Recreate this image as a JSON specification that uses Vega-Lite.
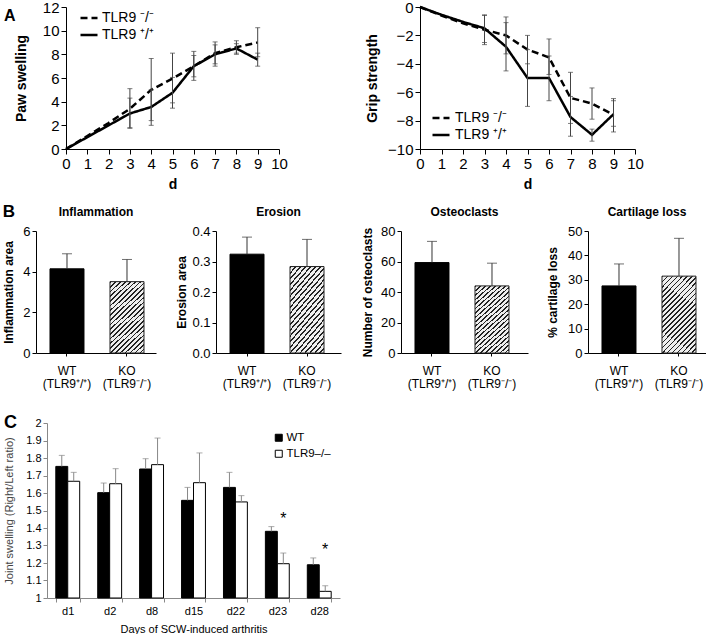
{
  "$schema": "https://vega.github.io/schema/vega-lite/v6.json",
  "background": "white",
  "padding": {"left": 2, "top": 0, "right": 0, "bottom": 0},
  "columns": 1,
  "spacing": 12,
  "align": "none",
  "bounds": "full",
  "resolve": {"scale": {"fill": "independent", "strokeDash": "independent"}, "legend": {"fill": "independent", "strokeDash": "independent"}},
  "config": {
    "font": "Liberation Sans",
    "view": {"stroke": null},
    "axis": {"grid": false, "domainColor": "#000", "tickColor": "#000", "labelColor": "#000", "titleColor": "#000", "labelFont": "Liberation Sans", "titleFont": "Liberation Sans"},
    "legend": {"labelFont": "Liberation Sans", "labelColor": "#000"},
    "title": {"font": "Liberation Sans", "color": "#000"}
  },
  "concat": [
    {
      "resolve": {"scale": {"strokeDash": "independent"}, "legend": {"strokeDash": "independent"}},
      "hconcat": [
        {
          "width": 243,
          "height": 142,
          "title": {"text": "A", "anchor": "start", "frame": "group", "dx": -32, "dy": 24, "offset": 0, "baseline": "top", "fontSize": 16, "fontWeight": "bold"},
          "data": {"values": [
            {"g": "TLR9 ⁻/⁻", "d": 0, "v": 0},
            {"g": "TLR9 ⁻/⁻", "d": 1, "v": 1.1},
            {"g": "TLR9 ⁻/⁻", "d": 2, "v": 2.2},
            {"g": "TLR9 ⁻/⁻", "d": 3, "v": 3.4, "lo": 1.75, "hi": 5.1},
            {"g": "TLR9 ⁻/⁻", "d": 4, "v": 5.0, "lo": 2.4, "hi": 7.65},
            {"g": "TLR9 ⁻/⁻", "d": 5, "v": 5.95, "lo": 3.9, "hi": 8.1},
            {"g": "TLR9 ⁻/⁻", "d": 6, "v": 7.0, "lo": 5.8, "hi": 8.25},
            {"g": "TLR9 ⁻/⁻", "d": 7, "v": 8.1, "lo": 7.2, "hi": 9.05},
            {"g": "TLR9 ⁻/⁻", "d": 8, "v": 8.6, "lo": 8.1, "hi": 9.15},
            {"g": "TLR9 ⁻/⁻", "d": 9, "v": 9.0, "lo": 7.8, "hi": 10.25},
            {"g": "TLR9 ⁺/⁺", "d": 0, "v": 0},
            {"g": "TLR9 ⁺/⁺", "d": 1, "v": 1.0},
            {"g": "TLR9 ⁺/⁺", "d": 2, "v": 2.0},
            {"g": "TLR9 ⁺/⁺", "d": 3, "v": 3.0, "lo": 1.8, "hi": 4.3},
            {"g": "TLR9 ⁺/⁺", "d": 4, "v": 3.55, "lo": 2.0, "hi": 5.0},
            {"g": "TLR9 ⁺/⁺", "d": 5, "v": 4.75, "lo": 3.45, "hi": 6.05},
            {"g": "TLR9 ⁺/⁺", "d": 6, "v": 7.0, "lo": 6.1, "hi": 7.9},
            {"g": "TLR9 ⁺/⁺", "d": 7, "v": 8.0, "lo": 7.0, "hi": 8.8},
            {"g": "TLR9 ⁺/⁺", "d": 8, "v": 8.5, "lo": 8.0, "hi": 8.9},
            {"g": "TLR9 ⁺/⁺", "d": 9, "v": 7.55, "lo": 7.0, "hi": 8.1}
          ]},
          "encoding": {
            "x": {"field": "d", "type": "quantitative", "scale": {"domain": [0, 10], "nice": false, "range": [30, 243]},
                  "axis": {"values": [0, 1, 2, 3, 4, 5, 6, 7, 8, 9, 10], "title": "d", "titleFontSize": 14, "titleFontWeight": "bold", "labelFontSize": 15, "tickSize": 5, "labelPadding": 2, "titlePadding": 6, "labelFlush": false, "labelOverlap": false}}
          },
          "layer": [
            {
              "mark": {"type": "line", "color": "black", "strokeWidth": 2.5},
              "encoding": {
                "y": {"field": "v", "type": "quantitative", "scale": {"domain": [0, 12], "nice": false},
                      "axis": {"values": [0, 2, 4, 6, 8, 10, 12], "offset": -30, "title": "Paw swelling", "titleFontSize": 14, "titleFontWeight": "bold", "labelFontSize": 15, "tickSize": 5, "labelPadding": 2, "titlePadding": 14, "labelOverlap": false}},
                "strokeDash": {"field": "g", "type": "nominal", "scale": {"domain": ["TLR9 ⁻/⁻", "TLR9 ⁺/⁺"], "range": [[7, 4], [1, 0]]},
                  "legend": {"title": null, "orient": "none", "legendX": 43, "legendY": 1, "symbolSize": 289, "symbolStrokeWidth": 2.5, "symbolStrokeColor": "black", "labelFontSize": 14, "labelOffset": 3, "rowPadding": -3, "padding": 0}}
              }
            },
            {"mark": {"type": "rule", "color": "#444", "strokeWidth": 1}, "encoding": {"y": {"field": "lo", "type": "quantitative", "axis": {"values": [0, 2, 4, 6, 8, 10, 12], "offset": -30, "title": "Paw swelling", "titleFontSize": 14, "titleFontWeight": "bold", "labelFontSize": 15, "tickSize": 5, "labelPadding": 2, "titlePadding": 14, "labelOverlap": false}}, "y2": {"field": "hi"}}},
            {"mark": {"type": "tick", "orient": "horizontal", "color": "#444", "size": 5, "thickness": 1}, "encoding": {"y": {"field": "lo", "type": "quantitative", "axis": {"values": [0, 2, 4, 6, 8, 10, 12], "offset": -30, "title": "Paw swelling", "titleFontSize": 14, "titleFontWeight": "bold", "labelFontSize": 15, "tickSize": 5, "labelPadding": 2, "titlePadding": 14, "labelOverlap": false}}}},
            {"mark": {"type": "tick", "orient": "horizontal", "color": "#444", "size": 5, "thickness": 1}, "encoding": {"y": {"field": "hi", "type": "quantitative", "axis": {"values": [0, 2, 4, 6, 8, 10, 12], "offset": -30, "title": "Paw swelling", "titleFontSize": 14, "titleFontWeight": "bold", "labelFontSize": 15, "tickSize": 5, "labelPadding": 2, "titlePadding": 14, "labelOverlap": false}}}}
          ]
        },
        {
          "width": 215,
          "height": 142,
          "data": {"values": [
            {"g": "TLR9 ⁻/⁻", "d": 0, "v": 0},
            {"g": "TLR9 ⁻/⁻", "d": 1, "v": -0.6},
            {"g": "TLR9 ⁻/⁻", "d": 2, "v": -1.15},
            {"g": "TLR9 ⁻/⁻", "d": 3, "v": -1.6, "lo": -0.6, "hi": -2.65},
            {"g": "TLR9 ⁻/⁻", "d": 4, "v": -2.0, "lo": -0.7, "hi": -3.3},
            {"g": "TLR9 ⁻/⁻", "d": 5, "v": -3.0, "lo": -2.0, "hi": -4.0},
            {"g": "TLR9 ⁻/⁻", "d": 6, "v": -3.55, "lo": -2.25, "hi": -4.75},
            {"g": "TLR9 ⁻/⁻", "d": 7, "v": -6.4, "lo": -4.6, "hi": -8.2},
            {"g": "TLR9 ⁻/⁻", "d": 8, "v": -6.8, "lo": -5.7, "hi": -7.9},
            {"g": "TLR9 ⁻/⁻", "d": 9, "v": -7.6, "lo": -6.45, "hi": -8.8},
            {"g": "TLR9 ⁺/⁺", "d": 0, "v": 0},
            {"g": "TLR9 ⁺/⁺", "d": 1, "v": -0.55},
            {"g": "TLR9 ⁺/⁺", "d": 2, "v": -1.05},
            {"g": "TLR9 ⁺/⁺", "d": 3, "v": -1.5, "lo": -0.55, "hi": -2.5},
            {"g": "TLR9 ⁺/⁺", "d": 4, "v": -2.8, "lo": -1.1, "hi": -4.5},
            {"g": "TLR9 ⁺/⁺", "d": 5, "v": -5.0, "lo": -3.0, "hi": -7.0},
            {"g": "TLR9 ⁺/⁺", "d": 6, "v": -5.0, "lo": -3.45, "hi": -6.6},
            {"g": "TLR9 ⁺/⁺", "d": 7, "v": -7.75, "lo": -6.3, "hi": -9.1},
            {"g": "TLR9 ⁺/⁺", "d": 8, "v": -9.0, "lo": -8.6, "hi": -9.45},
            {"g": "TLR9 ⁺/⁺", "d": 9, "v": -7.55, "lo": -6.6, "hi": -8.4}
          ]},
          "encoding": {
            "x": {"field": "d", "type": "quantitative", "scale": {"domain": [0, 10], "nice": false},
                  "axis": {"values": [0, 1, 2, 3, 4, 5, 6, 7, 8, 9, 10], "title": "d", "titleFontSize": 14, "titleFontWeight": "bold", "labelFontSize": 15, "tickSize": 5, "labelPadding": 2, "titlePadding": 6, "labelFlush": false, "labelOverlap": false}}
          },
          "layer": [
            {
              "mark": {"type": "line", "color": "black", "strokeWidth": 2.5},
              "encoding": {
                "y": {"field": "v", "type": "quantitative", "scale": {"domain": [-10, 0], "nice": false},
                      "axis": {"values": [-10, -8, -6, -4, -2, 0], "title": "Grip strength", "titleFontSize": 14, "titleFontWeight": "bold", "labelFontSize": 15, "tickSize": 5, "labelPadding": 2, "titlePadding": 8, "labelOverlap": false}},
                "strokeDash": {"field": "g", "type": "nominal", "scale": {"domain": ["TLR9 ⁻/⁻", "TLR9 ⁺/⁺"], "range": [[7, 4], [1, 0]]},
                  "legend": {"title": null, "orient": "none", "legendX": 11, "legendY": 101, "symbolSize": 289, "symbolStrokeWidth": 2.5, "symbolStrokeColor": "black", "labelFontSize": 14, "labelOffset": 4, "rowPadding": -1, "padding": 0}}
              }
            },
            {
              "data": {"values": [{}]},
              "mark": {"type": "rule", "color": "#333", "strokeDash": [1.5, 2.5], "strokeWidth": 1},
              "encoding": {"x": {"datum": 0, "type": "quantitative"}, "x2": {"datum": 10}, "y": {"datum": 0, "type": "quantitative", "axis": {"values": [-10, -8, -6, -4, -2, 0], "title": "Grip strength", "titleFontSize": 14, "titleFontWeight": "bold", "labelFontSize": 15, "tickSize": 5, "labelPadding": 2, "titlePadding": 8, "labelOverlap": false}}}
            },
            {"mark": {"type": "rule", "color": "#444", "strokeWidth": 1}, "encoding": {"y": {"field": "lo", "type": "quantitative", "axis": {"values": [-10, -8, -6, -4, -2, 0], "title": "Grip strength", "titleFontSize": 14, "titleFontWeight": "bold", "labelFontSize": 15, "tickSize": 5, "labelPadding": 2, "titlePadding": 8, "labelOverlap": false}}, "y2": {"field": "hi"}}},
            {"mark": {"type": "tick", "orient": "horizontal", "color": "#444", "size": 5, "thickness": 1}, "encoding": {"y": {"field": "lo", "type": "quantitative", "axis": {"values": [-10, -8, -6, -4, -2, 0], "title": "Grip strength", "titleFontSize": 14, "titleFontWeight": "bold", "labelFontSize": 15, "tickSize": 5, "labelPadding": 2, "titlePadding": 8, "labelOverlap": false}}}},
            {"mark": {"type": "tick", "orient": "horizontal", "color": "#444", "size": 5, "thickness": 1}, "encoding": {"y": {"field": "hi", "type": "quantitative", "axis": {"values": [-10, -8, -6, -4, -2, 0], "title": "Grip strength", "titleFontSize": 14, "titleFontWeight": "bold", "labelFontSize": 15, "tickSize": 5, "labelPadding": 2, "titlePadding": 8, "labelOverlap": false}}}}
          ]
        }
      ],
      "spacing": 141,
      "bounds": "flush"
    },
    {
      "title": {"text": "B", "anchor": "start", "frame": "bounds", "dx": 0, "dy": 17, "baseline": "top", "offset": 2, "fontSize": 17, "fontWeight": "bold"},
      "hconcat": [
        {
          "width": 120, "height": 122,
          "title": {"text": "Inflammation", "fontSize": 12, "fontWeight": "bold", "baseline": "alphabetic", "offset": -3},
          "data": {"values": [{"g": "WT", "v": 4.14, "hi": 4.88}, {"g": "KO", "v": 3.51, "hi": 4.6}]},
          "encoding": {
            "x": {"field": "g", "type": "nominal", "sort": ["WT", "KO"], "scale": {"paddingInner": 0.4333, "paddingOuter": 0.2167, "align": 0.538},
                  "axis": {"title": null, "labelAngle": 0, "labelExpr": "datum.value == 'WT' ? ['WT', '(TLR9⁺/⁺)', ''] : ['KO', '(TLR9⁻/⁻)', '']", "labelFontSize": 12, "labelLineHeight": 13, "tickSize": 3, "labelPadding": 9, "labelOverlap": false}}
          },
          "layer": [
            {"transform": [{"filter": "datum.g == 'WT'"}], "mark": {"type": "bar", "fill": "black", "stroke": "black"},
             "encoding": {"y": {"field": "v", "type": "quantitative", "scale": {"domain": [0, 6], "nice": false},
               "axis": {"values": [0, 2, 4, 6], "title": "Inflammation area", "titleFontSize": 12, "titleFontWeight": "bold", "labelFontSize": 13, "tickSize": 4, "labelPadding": 2, "titlePadding": 7, "labelOverlap": false}}}},
            {"transform": [{"filter": "datum.g == 'KO'"}],
             "mark": {"type": "bar", "stroke": "#222", "strokeWidth": 1, "fill": {"gradient": "linear", "x1": 0, "y1": 0, "x2": 0.5465, "y2": 1.2056, "stops": [{"offset": 0, "color": "#222"}, {"offset": 0.0159, "color": "#222"}, {"offset": 0.0159, "color": "#eee"}, {"offset": 0.0455, "color": "#eee"}, {"offset": 0.0455, "color": "#222"}, {"offset": 0.0614, "color": "#222"}, {"offset": 0.0614, "color": "#eee"}, {"offset": 0.0909, "color": "#eee"}, {"offset": 0.0909, "color": "#222"}, {"offset": 0.1068, "color": "#222"}, {"offset": 0.1068, "color": "#eee"}, {"offset": 0.1364, "color": "#eee"}, {"offset": 0.1364, "color": "#222"}, {"offset": 0.1523, "color": "#222"}, {"offset": 0.1523, "color": "#eee"}, {"offset": 0.1818, "color": "#eee"}, {"offset": 0.1818, "color": "#222"}, {"offset": 0.1977, "color": "#222"}, {"offset": 0.1977, "color": "#eee"}, {"offset": 0.2273, "color": "#eee"}, {"offset": 0.2273, "color": "#222"}, {"offset": 0.2432, "color": "#222"}, {"offset": 0.2432, "color": "#eee"}, {"offset": 0.2727, "color": "#eee"}, {"offset": 0.2727, "color": "#222"}, {"offset": 0.2886, "color": "#222"}, {"offset": 0.2886, "color": "#eee"}, {"offset": 0.3182, "color": "#eee"}, {"offset": 0.3182, "color": "#222"}, {"offset": 0.3341, "color": "#222"}, {"offset": 0.3341, "color": "#eee"}, {"offset": 0.3636, "color": "#eee"}, {"offset": 0.3636, "color": "#222"}, {"offset": 0.3795, "color": "#222"}, {"offset": 0.3795, "color": "#eee"}, {"offset": 0.4091, "color": "#eee"}, {"offset": 0.4091, "color": "#222"}, {"offset": 0.425, "color": "#222"}, {"offset": 0.425, "color": "#eee"}, {"offset": 0.4545, "color": "#eee"}, {"offset": 0.4545, "color": "#222"}, {"offset": 0.4704, "color": "#222"}, {"offset": 0.4704, "color": "#eee"}, {"offset": 0.5, "color": "#eee"}, {"offset": 0.5, "color": "#222"}, {"offset": 0.5159, "color": "#222"}, {"offset": 0.5159, "color": "#eee"}, {"offset": 0.5455, "color": "#eee"}, {"offset": 0.5455, "color": "#222"}, {"offset": 0.5614, "color": "#222"}, {"offset": 0.5614, "color": "#eee"}, {"offset": 0.5909, "color": "#eee"}, {"offset": 0.5909, "color": "#222"}, {"offset": 0.6068, "color": "#222"}, {"offset": 0.6068, "color": "#eee"}, {"offset": 0.6364, "color": "#eee"}, {"offset": 0.6364, "color": "#222"}, {"offset": 0.6523, "color": "#222"}, {"offset": 0.6523, "color": "#eee"}, {"offset": 0.6818, "color": "#eee"}, {"offset": 0.6818, "color": "#222"}, {"offset": 0.6977, "color": "#222"}, {"offset": 0.6977, "color": "#eee"}, {"offset": 0.7273, "color": "#eee"}, {"offset": 0.7273, "color": "#222"}, {"offset": 0.7432, "color": "#222"}, {"offset": 0.7432, "color": "#eee"}, {"offset": 0.7727, "color": "#eee"}, {"offset": 0.7727, "color": "#222"}, {"offset": 0.7886, "color": "#222"}, {"offset": 0.7886, "color": "#eee"}, {"offset": 0.8182, "color": "#eee"}, {"offset": 0.8182, "color": "#222"}, {"offset": 0.8341, "color": "#222"}, {"offset": 0.8341, "color": "#eee"}, {"offset": 0.8636, "color": "#eee"}, {"offset": 0.8636, "color": "#222"}, {"offset": 0.8795, "color": "#222"}, {"offset": 0.8795, "color": "#eee"}, {"offset": 0.9091, "color": "#eee"}, {"offset": 0.9091, "color": "#222"}, {"offset": 0.925, "color": "#222"}, {"offset": 0.925, "color": "#eee"}, {"offset": 0.9545, "color": "#eee"}, {"offset": 0.9545, "color": "#222"}, {"offset": 0.9704, "color": "#222"}, {"offset": 0.9704, "color": "#eee"}, {"offset": 1, "color": "#eee"}]}},
             "encoding": {"y": {"field": "v", "type": "quantitative", "axis": {"values": [0, 2, 4, 6], "title": "Inflammation area", "titleFontSize": 12, "titleFontWeight": "bold", "labelFontSize": 13, "tickSize": 4, "labelPadding": 2, "titlePadding": 7, "labelOverlap": false}}}},
            {"mark": {"type": "rule", "color": "#333"}, "encoding": {"y": {"field": "v", "type": "quantitative", "axis": {"values": [0, 2, 4, 6], "title": "Inflammation area", "titleFontSize": 12, "titleFontWeight": "bold", "labelFontSize": 13, "tickSize": 4, "labelPadding": 2, "titlePadding": 7, "labelOverlap": false}}, "y2": {"field": "hi"}}},
            {"mark": {"type": "tick", "orient": "horizontal", "color": "#333", "size": 10, "thickness": 1}, "encoding": {"y": {"field": "hi", "type": "quantitative", "axis": {"values": [0, 2, 4, 6], "title": "Inflammation area", "titleFontSize": 12, "titleFontWeight": "bold", "labelFontSize": 13, "tickSize": 4, "labelPadding": 2, "titlePadding": 7, "labelOverlap": false}}}}
          ]
        },
        {
          "width": 125, "height": 122,
          "title": {"text": "Erosion", "fontSize": 12, "fontWeight": "bold", "baseline": "alphabetic", "offset": -3},
          "data": {"values": [{"g": "WT", "v": 0.324, "hi": 0.38}, {"g": "KO", "v": 0.2835, "hi": 0.3725}]},
          "encoding": {
            "x": {"field": "g", "type": "nominal", "sort": ["WT", "KO"], "scale": {"paddingInner": 0.4333, "paddingOuter": 0.2583, "align": 0.452},
                  "axis": {"title": null, "labelAngle": 0, "labelExpr": "datum.value == 'WT' ? ['WT', '(TLR9⁺/⁺)', ''] : ['KO', '(TLR9⁻/⁻)', '']", "labelFontSize": 12, "labelLineHeight": 13, "tickSize": 3, "labelPadding": 9, "labelOverlap": false}}
          },
          "layer": [
            {"transform": [{"filter": "datum.g == 'WT'"}], "mark": {"type": "bar", "fill": "black", "stroke": "black"},
             "encoding": {"y": {"field": "v", "type": "quantitative", "scale": {"domain": [0, 0.4], "nice": false},
               "axis": {"values": [0, 0.1, 0.2, 0.3, 0.4], "format": ".1f", "title": "Erosion area", "titleFontSize": 12, "titleFontWeight": "bold", "labelFontSize": 13, "tickSize": 4, "labelPadding": 2, "titlePadding": 3, "labelOverlap": false}}}},
            {"transform": [{"filter": "datum.g == 'KO'"}],
             "mark": {"type": "bar", "stroke": "#222", "strokeWidth": 1, "fill": {"gradient": "linear", "x1": 0, "y1": 0, "x2": 0.5465, "y2": 1.2056, "stops": [{"offset": 0, "color": "#222"}, {"offset": 0.0159, "color": "#222"}, {"offset": 0.0159, "color": "#eee"}, {"offset": 0.0455, "color": "#eee"}, {"offset": 0.0455, "color": "#222"}, {"offset": 0.0614, "color": "#222"}, {"offset": 0.0614, "color": "#eee"}, {"offset": 0.0909, "color": "#eee"}, {"offset": 0.0909, "color": "#222"}, {"offset": 0.1068, "color": "#222"}, {"offset": 0.1068, "color": "#eee"}, {"offset": 0.1364, "color": "#eee"}, {"offset": 0.1364, "color": "#222"}, {"offset": 0.1523, "color": "#222"}, {"offset": 0.1523, "color": "#eee"}, {"offset": 0.1818, "color": "#eee"}, {"offset": 0.1818, "color": "#222"}, {"offset": 0.1977, "color": "#222"}, {"offset": 0.1977, "color": "#eee"}, {"offset": 0.2273, "color": "#eee"}, {"offset": 0.2273, "color": "#222"}, {"offset": 0.2432, "color": "#222"}, {"offset": 0.2432, "color": "#eee"}, {"offset": 0.2727, "color": "#eee"}, {"offset": 0.2727, "color": "#222"}, {"offset": 0.2886, "color": "#222"}, {"offset": 0.2886, "color": "#eee"}, {"offset": 0.3182, "color": "#eee"}, {"offset": 0.3182, "color": "#222"}, {"offset": 0.3341, "color": "#222"}, {"offset": 0.3341, "color": "#eee"}, {"offset": 0.3636, "color": "#eee"}, {"offset": 0.3636, "color": "#222"}, {"offset": 0.3795, "color": "#222"}, {"offset": 0.3795, "color": "#eee"}, {"offset": 0.4091, "color": "#eee"}, {"offset": 0.4091, "color": "#222"}, {"offset": 0.425, "color": "#222"}, {"offset": 0.425, "color": "#eee"}, {"offset": 0.4545, "color": "#eee"}, {"offset": 0.4545, "color": "#222"}, {"offset": 0.4704, "color": "#222"}, {"offset": 0.4704, "color": "#eee"}, {"offset": 0.5, "color": "#eee"}, {"offset": 0.5, "color": "#222"}, {"offset": 0.5159, "color": "#222"}, {"offset": 0.5159, "color": "#eee"}, {"offset": 0.5455, "color": "#eee"}, {"offset": 0.5455, "color": "#222"}, {"offset": 0.5614, "color": "#222"}, {"offset": 0.5614, "color": "#eee"}, {"offset": 0.5909, "color": "#eee"}, {"offset": 0.5909, "color": "#222"}, {"offset": 0.6068, "color": "#222"}, {"offset": 0.6068, "color": "#eee"}, {"offset": 0.6364, "color": "#eee"}, {"offset": 0.6364, "color": "#222"}, {"offset": 0.6523, "color": "#222"}, {"offset": 0.6523, "color": "#eee"}, {"offset": 0.6818, "color": "#eee"}, {"offset": 0.6818, "color": "#222"}, {"offset": 0.6977, "color": "#222"}, {"offset": 0.6977, "color": "#eee"}, {"offset": 0.7273, "color": "#eee"}, {"offset": 0.7273, "color": "#222"}, {"offset": 0.7432, "color": "#222"}, {"offset": 0.7432, "color": "#eee"}, {"offset": 0.7727, "color": "#eee"}, {"offset": 0.7727, "color": "#222"}, {"offset": 0.7886, "color": "#222"}, {"offset": 0.7886, "color": "#eee"}, {"offset": 0.8182, "color": "#eee"}, {"offset": 0.8182, "color": "#222"}, {"offset": 0.8341, "color": "#222"}, {"offset": 0.8341, "color": "#eee"}, {"offset": 0.8636, "color": "#eee"}, {"offset": 0.8636, "color": "#222"}, {"offset": 0.8795, "color": "#222"}, {"offset": 0.8795, "color": "#eee"}, {"offset": 0.9091, "color": "#eee"}, {"offset": 0.9091, "color": "#222"}, {"offset": 0.925, "color": "#222"}, {"offset": 0.925, "color": "#eee"}, {"offset": 0.9545, "color": "#eee"}, {"offset": 0.9545, "color": "#222"}, {"offset": 0.9704, "color": "#222"}, {"offset": 0.9704, "color": "#eee"}, {"offset": 1, "color": "#eee"}]}},
             "encoding": {"y": {"field": "v", "type": "quantitative", "axis": {"values": [0, 0.1, 0.2, 0.3, 0.4], "format": ".1f", "title": "Erosion area", "titleFontSize": 12, "titleFontWeight": "bold", "labelFontSize": 13, "tickSize": 4, "labelPadding": 2, "titlePadding": 3, "labelOverlap": false}}}},
            {"mark": {"type": "rule", "color": "#333"}, "encoding": {"y": {"field": "v", "type": "quantitative", "axis": {"values": [0, 0.1, 0.2, 0.3, 0.4], "format": ".1f", "title": "Erosion area", "titleFontSize": 12, "titleFontWeight": "bold", "labelFontSize": 13, "tickSize": 4, "labelPadding": 2, "titlePadding": 3, "labelOverlap": false}}, "y2": {"field": "hi"}}},
            {"mark": {"type": "tick", "orient": "horizontal", "color": "#333", "size": 10, "thickness": 1}, "encoding": {"y": {"field": "hi", "type": "quantitative", "axis": {"values": [0, 0.1, 0.2, 0.3, 0.4], "format": ".1f", "title": "Erosion area", "titleFontSize": 12, "titleFontWeight": "bold", "labelFontSize": 13, "tickSize": 4, "labelPadding": 2, "titlePadding": 3, "labelOverlap": false}}}}
          ]
        },
        {
          "width": 127, "height": 122,
          "title": {"text": "Osteoclasts", "fontSize": 12, "fontWeight": "bold", "baseline": "alphabetic", "offset": -3},
          "data": {"values": [{"g": "WT", "v": 59.3, "hi": 73.2}, {"g": "KO", "v": 44.0, "hi": 58.9}]},
          "encoding": {
            "x": {"field": "g", "type": "nominal", "sort": ["WT", "KO"], "scale": {"paddingInner": 0.4333, "paddingOuter": 0.275, "align": 0.424},
                  "axis": {"title": null, "labelAngle": 0, "labelExpr": "datum.value == 'WT' ? ['WT', '(TLR9⁺/⁺)', ''] : ['KO', '(TLR9⁻/⁻)', '']", "labelFontSize": 12, "labelLineHeight": 13, "tickSize": 3, "labelPadding": 9, "labelOverlap": false}}
          },
          "layer": [
            {"transform": [{"filter": "datum.g == 'WT'"}], "mark": {"type": "bar", "fill": "black", "stroke": "black"},
             "encoding": {"y": {"field": "v", "type": "quantitative", "scale": {"domain": [0, 80], "nice": false},
               "axis": {"values": [0, 20, 40, 60, 80], "title": "Number of osteoclasts", "titleFontSize": 12, "titleFontWeight": "bold", "labelFontSize": 13, "tickSize": 4, "labelPadding": 2, "titlePadding": 6, "labelOverlap": false}}}},
            {"transform": [{"filter": "datum.g == 'KO'"}],
             "mark": {"type": "bar", "stroke": "#222", "strokeWidth": 1, "fill": {"gradient": "linear", "x1": 0, "y1": 0, "x2": 0.5465, "y2": 1.2056, "stops": [{"offset": 0, "color": "#222"}, {"offset": 0.0159, "color": "#222"}, {"offset": 0.0159, "color": "#eee"}, {"offset": 0.0455, "color": "#eee"}, {"offset": 0.0455, "color": "#222"}, {"offset": 0.0614, "color": "#222"}, {"offset": 0.0614, "color": "#eee"}, {"offset": 0.0909, "color": "#eee"}, {"offset": 0.0909, "color": "#222"}, {"offset": 0.1068, "color": "#222"}, {"offset": 0.1068, "color": "#eee"}, {"offset": 0.1364, "color": "#eee"}, {"offset": 0.1364, "color": "#222"}, {"offset": 0.1523, "color": "#222"}, {"offset": 0.1523, "color": "#eee"}, {"offset": 0.1818, "color": "#eee"}, {"offset": 0.1818, "color": "#222"}, {"offset": 0.1977, "color": "#222"}, {"offset": 0.1977, "color": "#eee"}, {"offset": 0.2273, "color": "#eee"}, {"offset": 0.2273, "color": "#222"}, {"offset": 0.2432, "color": "#222"}, {"offset": 0.2432, "color": "#eee"}, {"offset": 0.2727, "color": "#eee"}, {"offset": 0.2727, "color": "#222"}, {"offset": 0.2886, "color": "#222"}, {"offset": 0.2886, "color": "#eee"}, {"offset": 0.3182, "color": "#eee"}, {"offset": 0.3182, "color": "#222"}, {"offset": 0.3341, "color": "#222"}, {"offset": 0.3341, "color": "#eee"}, {"offset": 0.3636, "color": "#eee"}, {"offset": 0.3636, "color": "#222"}, {"offset": 0.3795, "color": "#222"}, {"offset": 0.3795, "color": "#eee"}, {"offset": 0.4091, "color": "#eee"}, {"offset": 0.4091, "color": "#222"}, {"offset": 0.425, "color": "#222"}, {"offset": 0.425, "color": "#eee"}, {"offset": 0.4545, "color": "#eee"}, {"offset": 0.4545, "color": "#222"}, {"offset": 0.4704, "color": "#222"}, {"offset": 0.4704, "color": "#eee"}, {"offset": 0.5, "color": "#eee"}, {"offset": 0.5, "color": "#222"}, {"offset": 0.5159, "color": "#222"}, {"offset": 0.5159, "color": "#eee"}, {"offset": 0.5455, "color": "#eee"}, {"offset": 0.5455, "color": "#222"}, {"offset": 0.5614, "color": "#222"}, {"offset": 0.5614, "color": "#eee"}, {"offset": 0.5909, "color": "#eee"}, {"offset": 0.5909, "color": "#222"}, {"offset": 0.6068, "color": "#222"}, {"offset": 0.6068, "color": "#eee"}, {"offset": 0.6364, "color": "#eee"}, {"offset": 0.6364, "color": "#222"}, {"offset": 0.6523, "color": "#222"}, {"offset": 0.6523, "color": "#eee"}, {"offset": 0.6818, "color": "#eee"}, {"offset": 0.6818, "color": "#222"}, {"offset": 0.6977, "color": "#222"}, {"offset": 0.6977, "color": "#eee"}, {"offset": 0.7273, "color": "#eee"}, {"offset": 0.7273, "color": "#222"}, {"offset": 0.7432, "color": "#222"}, {"offset": 0.7432, "color": "#eee"}, {"offset": 0.7727, "color": "#eee"}, {"offset": 0.7727, "color": "#222"}, {"offset": 0.7886, "color": "#222"}, {"offset": 0.7886, "color": "#eee"}, {"offset": 0.8182, "color": "#eee"}, {"offset": 0.8182, "color": "#222"}, {"offset": 0.8341, "color": "#222"}, {"offset": 0.8341, "color": "#eee"}, {"offset": 0.8636, "color": "#eee"}, {"offset": 0.8636, "color": "#222"}, {"offset": 0.8795, "color": "#222"}, {"offset": 0.8795, "color": "#eee"}, {"offset": 0.9091, "color": "#eee"}, {"offset": 0.9091, "color": "#222"}, {"offset": 0.925, "color": "#222"}, {"offset": 0.925, "color": "#eee"}, {"offset": 0.9545, "color": "#eee"}, {"offset": 0.9545, "color": "#222"}, {"offset": 0.9704, "color": "#222"}, {"offset": 0.9704, "color": "#eee"}, {"offset": 1, "color": "#eee"}]}},
             "encoding": {"y": {"field": "v", "type": "quantitative", "axis": {"values": [0, 20, 40, 60, 80], "title": "Number of osteoclasts", "titleFontSize": 12, "titleFontWeight": "bold", "labelFontSize": 13, "tickSize": 4, "labelPadding": 2, "titlePadding": 6, "labelOverlap": false}}}},
            {"mark": {"type": "rule", "color": "#333"}, "encoding": {"y": {"field": "v", "type": "quantitative", "axis": {"values": [0, 20, 40, 60, 80], "title": "Number of osteoclasts", "titleFontSize": 12, "titleFontWeight": "bold", "labelFontSize": 13, "tickSize": 4, "labelPadding": 2, "titlePadding": 6, "labelOverlap": false}}, "y2": {"field": "hi"}}},
            {"mark": {"type": "tick", "orient": "horizontal", "color": "#333", "size": 10, "thickness": 1}, "encoding": {"y": {"field": "hi", "type": "quantitative", "axis": {"values": [0, 20, 40, 60, 80], "title": "Number of osteoclasts", "titleFontSize": 12, "titleFontWeight": "bold", "labelFontSize": 13, "tickSize": 4, "labelPadding": 2, "titlePadding": 6, "labelOverlap": false}}}}
          ]
        },
        {
          "width": 118, "height": 122,
          "title": {"text": "Cartilage loss", "fontSize": 12, "fontWeight": "bold", "baseline": "alphabetic", "offset": -3},
          "data": {"values": [{"g": "WT", "v": 27.5, "hi": 36.5}, {"g": "KO", "v": 31.5, "hi": 47.0}]},
          "encoding": {
            "x": {"field": "g", "type": "nominal", "sort": ["WT", "KO"], "scale": {"paddingInner": 0.4333, "paddingOuter": 0.2, "align": 0.583},
                  "axis": {"title": null, "labelAngle": 0, "labelExpr": "datum.value == 'WT' ? ['WT', '(TLR9⁺/⁺)', ''] : ['KO', '(TLR9⁻/⁻)', '']", "labelFontSize": 12, "labelLineHeight": 13, "tickSize": 3, "labelPadding": 9, "labelOverlap": false}}
          },
          "layer": [
            {"transform": [{"filter": "datum.g == 'WT'"}], "mark": {"type": "bar", "fill": "black", "stroke": "black"},
             "encoding": {"y": {"field": "v", "type": "quantitative", "scale": {"domain": [0, 50], "nice": false},
               "axis": {"values": [0, 10, 20, 30, 40, 50], "title": "% cartilage loss", "titleFontSize": 12, "titleFontWeight": "bold", "labelFontSize": 13, "tickSize": 4, "labelPadding": 2, "titlePadding": 8, "labelOverlap": false}}}},
            {"transform": [{"filter": "datum.g == 'KO'"}],
             "mark": {"type": "bar", "stroke": "#222", "strokeWidth": 1, "fill": {"gradient": "linear", "x1": 0, "y1": 0, "x2": 0.5465, "y2": 1.2056, "stops": [{"offset": 0, "color": "#222"}, {"offset": 0.0159, "color": "#222"}, {"offset": 0.0159, "color": "#eee"}, {"offset": 0.0455, "color": "#eee"}, {"offset": 0.0455, "color": "#222"}, {"offset": 0.0614, "color": "#222"}, {"offset": 0.0614, "color": "#eee"}, {"offset": 0.0909, "color": "#eee"}, {"offset": 0.0909, "color": "#222"}, {"offset": 0.1068, "color": "#222"}, {"offset": 0.1068, "color": "#eee"}, {"offset": 0.1364, "color": "#eee"}, {"offset": 0.1364, "color": "#222"}, {"offset": 0.1523, "color": "#222"}, {"offset": 0.1523, "color": "#eee"}, {"offset": 0.1818, "color": "#eee"}, {"offset": 0.1818, "color": "#222"}, {"offset": 0.1977, "color": "#222"}, {"offset": 0.1977, "color": "#eee"}, {"offset": 0.2273, "color": "#eee"}, {"offset": 0.2273, "color": "#222"}, {"offset": 0.2432, "color": "#222"}, {"offset": 0.2432, "color": "#eee"}, {"offset": 0.2727, "color": "#eee"}, {"offset": 0.2727, "color": "#222"}, {"offset": 0.2886, "color": "#222"}, {"offset": 0.2886, "color": "#eee"}, {"offset": 0.3182, "color": "#eee"}, {"offset": 0.3182, "color": "#222"}, {"offset": 0.3341, "color": "#222"}, {"offset": 0.3341, "color": "#eee"}, {"offset": 0.3636, "color": "#eee"}, {"offset": 0.3636, "color": "#222"}, {"offset": 0.3795, "color": "#222"}, {"offset": 0.3795, "color": "#eee"}, {"offset": 0.4091, "color": "#eee"}, {"offset": 0.4091, "color": "#222"}, {"offset": 0.425, "color": "#222"}, {"offset": 0.425, "color": "#eee"}, {"offset": 0.4545, "color": "#eee"}, {"offset": 0.4545, "color": "#222"}, {"offset": 0.4704, "color": "#222"}, {"offset": 0.4704, "color": "#eee"}, {"offset": 0.5, "color": "#eee"}, {"offset": 0.5, "color": "#222"}, {"offset": 0.5159, "color": "#222"}, {"offset": 0.5159, "color": "#eee"}, {"offset": 0.5455, "color": "#eee"}, {"offset": 0.5455, "color": "#222"}, {"offset": 0.5614, "color": "#222"}, {"offset": 0.5614, "color": "#eee"}, {"offset": 0.5909, "color": "#eee"}, {"offset": 0.5909, "color": "#222"}, {"offset": 0.6068, "color": "#222"}, {"offset": 0.6068, "color": "#eee"}, {"offset": 0.6364, "color": "#eee"}, {"offset": 0.6364, "color": "#222"}, {"offset": 0.6523, "color": "#222"}, {"offset": 0.6523, "color": "#eee"}, {"offset": 0.6818, "color": "#eee"}, {"offset": 0.6818, "color": "#222"}, {"offset": 0.6977, "color": "#222"}, {"offset": 0.6977, "color": "#eee"}, {"offset": 0.7273, "color": "#eee"}, {"offset": 0.7273, "color": "#222"}, {"offset": 0.7432, "color": "#222"}, {"offset": 0.7432, "color": "#eee"}, {"offset": 0.7727, "color": "#eee"}, {"offset": 0.7727, "color": "#222"}, {"offset": 0.7886, "color": "#222"}, {"offset": 0.7886, "color": "#eee"}, {"offset": 0.8182, "color": "#eee"}, {"offset": 0.8182, "color": "#222"}, {"offset": 0.8341, "color": "#222"}, {"offset": 0.8341, "color": "#eee"}, {"offset": 0.8636, "color": "#eee"}, {"offset": 0.8636, "color": "#222"}, {"offset": 0.8795, "color": "#222"}, {"offset": 0.8795, "color": "#eee"}, {"offset": 0.9091, "color": "#eee"}, {"offset": 0.9091, "color": "#222"}, {"offset": 0.925, "color": "#222"}, {"offset": 0.925, "color": "#eee"}, {"offset": 0.9545, "color": "#eee"}, {"offset": 0.9545, "color": "#222"}, {"offset": 0.9704, "color": "#222"}, {"offset": 0.9704, "color": "#eee"}, {"offset": 1, "color": "#eee"}]}},
             "encoding": {"y": {"field": "v", "type": "quantitative", "axis": {"values": [0, 10, 20, 30, 40, 50], "title": "% cartilage loss", "titleFontSize": 12, "titleFontWeight": "bold", "labelFontSize": 13, "tickSize": 4, "labelPadding": 2, "titlePadding": 8, "labelOverlap": false}}}},
            {"mark": {"type": "rule", "color": "#333"}, "encoding": {"y": {"field": "v", "type": "quantitative", "axis": {"values": [0, 10, 20, 30, 40, 50], "title": "% cartilage loss", "titleFontSize": 12, "titleFontWeight": "bold", "labelFontSize": 13, "tickSize": 4, "labelPadding": 2, "titlePadding": 8, "labelOverlap": false}}, "y2": {"field": "hi"}}},
            {"mark": {"type": "tick", "orient": "horizontal", "color": "#333", "size": 10, "thickness": 1}, "encoding": {"y": {"field": "hi", "type": "quantitative", "axis": {"values": [0, 10, 20, 30, 40, 50], "title": "% cartilage loss", "titleFontSize": 12, "titleFontWeight": "bold", "labelFontSize": 13, "tickSize": 4, "labelPadding": 2, "titlePadding": 8, "labelOverlap": false}}}}
          ]
        }
      ],
      "spacing": 60,
      "bounds": "flush"
    },
    {
      "width": 304,
      "height": 175,
      "title": {"text": "C", "anchor": "start", "frame": "group", "dx": -32, "dy": 20, "baseline": "top", "offset": 5, "fontSize": 18, "fontWeight": "bold"},
      "data": {"values": [
        {"day": "d1", "g": "WT", "v": 1.752, "hi": 1.815},
        {"day": "d2", "g": "WT", "v": 1.602, "hi": 1.657},
        {"day": "d8", "g": "WT", "v": 1.737, "hi": 1.796},
        {"day": "d15", "g": "WT", "v": 1.558, "hi": 1.632},
        {"day": "d22", "g": "WT", "v": 1.632, "hi": 1.718},
        {"day": "d23", "g": "WT", "v": 1.381, "hi": 1.408},
        {"day": "d28", "g": "WT", "v": 1.19, "hi": 1.229},
        {"day": "d1", "g": "TLR9–/–", "v": 1.667, "hi": 1.718},
        {"day": "d2", "g": "TLR9–/–", "v": 1.653, "hi": 1.739},
        {"day": "d8", "g": "TLR9–/–", "v": 1.762, "hi": 1.914},
        {"day": "d15", "g": "TLR9–/–", "v": 1.659, "hi": 1.829},
        {"day": "d22", "g": "TLR9–/–", "v": 1.549, "hi": 1.585},
        {"day": "d23", "g": "TLR9–/–", "v": 1.196, "hi": 1.257, "sig": "*", "star": 1.451},
        {"day": "d28", "g": "TLR9–/–", "v": 1.038, "hi": 1.07, "sig": "*", "star": 1.272}
      ]},
      "encoding": {
        "x": {"field": "day", "type": "nominal", "sort": ["d1", "d2", "d8", "d15", "d22", "d23", "d28"], "scale": {"paddingInner": 0.43, "paddingOuter": 0.21, "range": [11, 304]},
              "axis": {"title": "Days of SCW-induced arthritis", "titleFontSize": 11, "titleFontWeight": "normal", "labelAngle": 0, "labelFontSize": 11, "tickBand": "extent", "tickSize": 4, "labelPadding": 3, "titlePadding": 7, "domainColor": "#888", "tickColor": "#888", "labelOverlap": false}},
        "xOffset": {"field": "g", "type": "nominal", "sort": ["WT", "TLR9–/–"], "scale": {"paddingInner": 0, "paddingOuter": 0}}
      },
      "layer": [
        {
          "mark": {"type": "bar", "stroke": "black", "strokeWidth": 1},
          "encoding": {
            "y": {"field": "v", "type": "quantitative", "scale": {"domain": [1, 2], "nice": false, "zero": false},
                  "axis": {"values": [1, 1.1, 1.2, 1.3, 1.4, 1.5, 1.6, 1.7, 1.8, 1.9, 2], "format": "~g", "offset": -11, "title": "Joint swelling (Right/Left ratio)", "titleFontSize": 11, "titleFontWeight": "normal", "titleColor": "#444", "labelFontSize": 11, "tickSize": 4, "labelPadding": 2, "titlePadding": 11.5, "domainColor": "#888", "tickColor": "#888", "labelOverlap": false}},
            "y2": {"datum": 1},
            "fill": {"field": "g", "type": "nominal", "scale": {"domain": ["WT", "TLR9–/–"], "range": ["black", "white"]},
              "legend": {"title": null, "orient": "none", "legendX": 237, "legendY": 9, "symbolType": "square", "symbolSize": 49, "symbolStrokeColor": "black", "symbolStrokeWidth": 1, "labelFontSize": 11.5, "labelOffset": 2, "rowPadding": 3, "padding": 0}}
          }
        },
        {"mark": {"type": "rule", "color": "#888"}, "encoding": {"y": {"field": "v", "type": "quantitative", "axis": {"values": [1, 1.1, 1.2, 1.3, 1.4, 1.5, 1.6, 1.7, 1.8, 1.9, 2], "format": "~g", "offset": -11, "title": "Joint swelling (Right/Left ratio)", "titleFontSize": 11, "titleFontWeight": "normal", "titleColor": "#444", "labelFontSize": 11, "tickSize": 4, "labelPadding": 2, "titlePadding": 11.5, "domainColor": "#888", "tickColor": "#888", "labelOverlap": false}}, "y2": {"field": "hi"}}},
        {"mark": {"type": "tick", "orient": "horizontal", "color": "#888", "size": 6, "thickness": 1}, "encoding": {"y": {"field": "hi", "type": "quantitative", "axis": {"values": [1, 1.1, 1.2, 1.3, 1.4, 1.5, 1.6, 1.7, 1.8, 1.9, 2], "format": "~g", "offset": -11, "title": "Joint swelling (Right/Left ratio)", "titleFontSize": 11, "titleFontWeight": "normal", "titleColor": "#444", "labelFontSize": 11, "tickSize": 4, "labelPadding": 2, "titlePadding": 11.5, "domainColor": "#888", "tickColor": "#888", "labelOverlap": false}}}},
        {"transform": [{"filter": "datum.sig != null"}], "mark": {"type": "text", "fontSize": 16, "baseline": "middle", "color": "black"},
         "encoding": {"y": {"field": "star", "type": "quantitative", "axis": {"values": [1, 1.1, 1.2, 1.3, 1.4, 1.5, 1.6, 1.7, 1.8, 1.9, 2], "format": "~g", "offset": -11, "title": "Joint swelling (Right/Left ratio)", "titleFontSize": 11, "titleFontWeight": "normal", "titleColor": "#444", "labelFontSize": 11, "tickSize": 4, "labelPadding": 2, "titlePadding": 11.5, "domainColor": "#888", "tickColor": "#888", "labelOverlap": false}}, "text": {"field": "sig"}}}
      ]
    }
  ]
}
